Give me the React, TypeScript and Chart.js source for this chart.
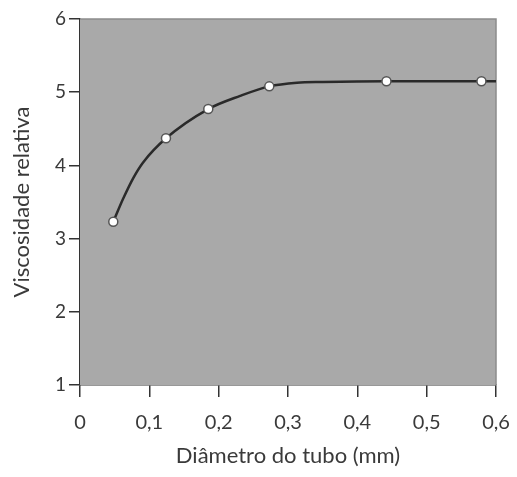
import React, { useEffect, useRef } from "react";
import { Chart, registerables } from "chart.js";

Chart.register(...registerables);

// Measured points
const diametro = [0.048, 0.124, 0.185, 0.273, 0.442, 0.579];
const viscosidade = [3.23, 4.37, 4.77, 5.08, 5.15, 5.15];

// Fitted curve
const curvaX = [0.048, 0.0625, 0.077, 0.091, 0.124, 0.185, 0.231, 0.273, 0.313, 0.35, 0.442, 0.579, 0.6];
const curvaY = [3.23, 3.55, 3.83, 4.04, 4.37, 4.77, 4.95, 5.08, 5.13, 5.14, 5.15, 5.15, 5.15];

const xTicks = [0, 0.1, 0.2, 0.3, 0.4, 0.5, 0.6];
const yTicks = [1, 2, 3, 4, 5, 6];

const xTitle = "Diâmetro do tubo (mm)";
const yTitle = "Viscosidade relativa";

const FONT = "Lato, 'Open Sans', sans-serif";
const TEXT = "#3a3a3a";

const bgPlugin = {
  id: "bgPlugin",
  beforeDatasetsDraw(chart: any) {
    const { ctx, chartArea } = chart;
    const { left, top, right, bottom } = chartArea;
    ctx.save();
    ctx.fillStyle = "#a9a9a9";
    ctx.fillRect(left, top, right - left, bottom - top);
    ctx.strokeStyle = "#8c8c8c";
    ctx.lineWidth = 1.5;
    ctx.beginPath();
    ctx.moveTo(left, top);
    ctx.lineTo(right, top);
    ctx.lineTo(right, bottom);
    ctx.stroke();
    ctx.restore();
  },
};

export default function App() {
  const ref = useRef<HTMLCanvasElement | null>(null);

  useEffect(() => {
    document.body.style.margin = "0";
    const canvas = ref.current!;
    const chart = new Chart(canvas, {
      type: "scatter",
      data: {
        datasets: [
          {
            label: "pontos",
            data: diametro.map((x, i) => ({ x, y: viscosidade[i] })),
            showLine: false,
            pointRadius: 4.5,
            pointBackgroundColor: "#ffffff",
            pointBorderColor: "#555555",
            pointBorderWidth: 1.5,
            order: 0,
          },
          {
            label: "curva",
            data: curvaX.map((x, i) => ({ x, y: curvaY[i] })),
            showLine: true,
            pointRadius: 0,
            borderColor: "#2a2a2a",
            borderWidth: 2.5,
            cubicInterpolationMode: "monotone",
            order: 1,
          },
        ],
      },
      options: {
        animation: false,
        responsive: false,
        maintainAspectRatio: false,
        layout: { padding: { left: 0, right: 21, top: 19, bottom: 0 } },
        plugins: {
          legend: { display: false },
          tooltip: { enabled: false },
        },
        scales: {
          x: {
            type: "linear",
            min: 0,
            max: 0.6,
            afterBuildTicks: (s: any) => {
              s.ticks = xTicks.map((v) => ({ value: v }));
            },
            afterFit: (s: any) => {
              s.height = 92;
              s.paddingLeft = 0;
              s.paddingRight = 0;
            },
            ticks: {
              color: TEXT,
              font: { family: FONT, size: 20 },
              padding: 14,
              callback: (v: any) => (v === 0 ? "0" : Number(v).toFixed(1).replace(".", ",")),
            },
            grid: {
              drawOnChartArea: false,
              drawTicks: true,
              tickLength: 12,
              color: "#333333",
              lineWidth: 1.5,
            },
            border: { display: true, color: "#333333", width: 1.5 },
            title: {
              display: true,
              text: xTitle,
              color: TEXT,
              font: { family: FONT, size: 22 },
              padding: { top: 8, bottom: 8 },
            },
          },
          y: {
            type: "linear",
            min: 1,
            max: 6,
            afterBuildTicks: (s: any) => {
              s.ticks = yTicks.map((v) => ({ value: v }));
            },
            afterFit: (s: any) => {
              s.width = 80;
              s.paddingTop = 0;
              s.paddingBottom = 0;
            },
            ticks: {
              color: TEXT,
              font: { family: FONT, size: 19 },
              padding: 3,
            },
            grid: {
              drawOnChartArea: false,
              drawTicks: true,
              tickLength: 11,
              color: "#333333",
              lineWidth: 1.5,
            },
            border: { display: true, color: "#333333", width: 1.5 },
            title: {
              display: true,
              text: yTitle,
              color: TEXT,
              font: { family: FONT, size: 22 },
              padding: { top: 9, bottom: 9 },
            },
          },
        },
      },
      plugins: [bgPlugin],
    });
    return () => chart.destroy();
  }, []);

  return (
    <div style={{ width: 517, height: 477 }}>
      <canvas ref={ref} width={517} height={477} style={{ width: 517, height: 477, display: "block" }} />
    </div>
  );
}
